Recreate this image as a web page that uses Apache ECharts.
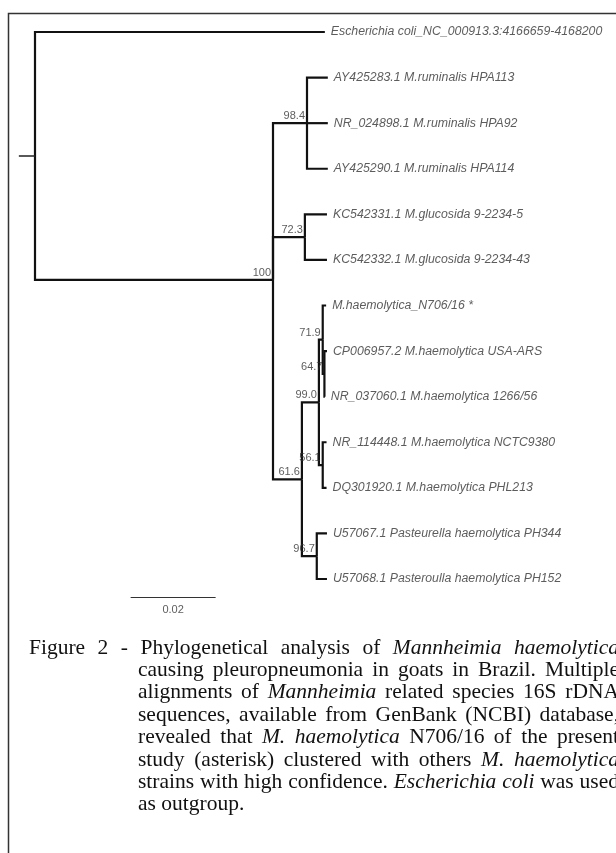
<!DOCTYPE html>
<html>
<head>
<meta charset="utf-8">
<script src="https://cdn.jsdelivr.net/npm/echarts@6/dist/echarts.min.js"></script>
<style>
  html, body { margin: 0; padding: 0; background: #fff; }
  #tree { width: 616px; height: 853px; }
</style>
</head>
<body>
<div id="tree"></div>
<script>
// leaves, top to bottom
const leafNames = [
  'Escherichia coli_NC_000913.3:4166659-4168200',
  'AY425283.1 M.ruminalis HPA113',
  'NR_024898.1 M.ruminalis HPA92',
  'AY425290.1 M.ruminalis HPA114',
  'KC542331.1 M.glucosida 9-2234-5',
  'KC542332.1 M.glucosida 9-2234-43',
  'M.haemolytica_N706/16 *',
  'CP006957.2 M.haemolytica USA-ARS',
  'NR_037060.1 M.haemolytica 1266/56',
  'NR_114448.1 M.haemolytica NCTC9380',
  'DQ301920.1 M.haemolytica PHL213',
  'U57067.1 Pasteurella haemolytica PH344',
  'U57068.1 Pasteroulla haemolytica PH152'
]
const leafParent = [0, 2, 2, 2, 3, 3, 6, 7, 7, 8, 8, 9, 9]
const leafBranch = [0.0682, 0.0049, 0.0049, 0.0049, 0.0052, 0.0052, 0.0008, 0.0006, 0.0001, 0.0009, 0.0009, 0.0024, 0.0024]

// internal nodes (0 = root)
const nodeSupport = ['', '100', '98.4', '72.3', '61.6', '99.0', '71.9', '64.7', '56.1', '96.7']
const nodeParent = [-1, 0, 1, 1, 1, 4, 5, 6, 5, 4]
const nodeBranch = [0, 0.0560, 0.0080, 0.0075, 0.0068, 0.0040, 0.0009, 0.0004, 0.0009, 0.0035]

const scaleBarLength = 0.02
const scaleBarLabel = '0.02'

const captionLines = [
  'Figure 2 - Phylogenetical analysis of *Mannheimia* *haemolytica*',
  'causing pleuropneumonia in goats in Brazil. Multiple',
  'alignments of *Mannheimia* related species 16S rDNA',
  'sequences, available from GenBank (NCBI) database,',
  'revealed that *M.* *haemolytica* N706/16 of the present',
  'study (asterisk) clustered with others *M.* *haemolytica*',
  'strains with high confidence. *Escherichia* *coli* was used',
  'as outgroup.'
]

// node positions
const nodeX = []
nodeParent.forEach((p, i) => {
  nodeX[i] = p < 0 ? 0 : nodeX[p] + nodeBranch[i]
})
const leafX = leafParent.map((p, j) => nodeX[p] + leafBranch[j])
const leafY = leafNames.map((n, j) => j)
const nodeY = []
for (let i = nodeParent.length - 1; i >= 0; i--) {
  const ys = []
  leafParent.forEach((p, j) => { if (p === i) ys.push(leafY[j]) })
  nodeParent.forEach((p, k) => { if (p === i) ys.push(nodeY[k]) })
  nodeY[i] = ys.reduce((a, b) => a + b, 0) / ys.length
}

const branches = []
leafParent.forEach((p, j) => {
  branches.push({coords: [[nodeX[p], nodeY[p]], [nodeX[p], leafY[j]], [leafX[j], leafY[j]]]})
})
nodeParent.forEach((p, i) => {
  if (p < 0) return
  branches.push({coords: [[nodeX[p], nodeY[p]], [nodeX[p], nodeY[i]], [nodeX[i], nodeY[i]]]})
})

const barStart = 0.0225
const barY = 12.4

// caption, justified word by word
const ctx = document.createElement('canvas').getContext('2d')
const capSize = 21.5
const capFont = (it) => (it ? 'italic ' : '') + capSize + 'px "Liberation Serif"'
const captionTexts = []
captionLines.forEach((line, li) => {
  const x0 = li === 0 ? 29 : 138
  const right = 619
  const words = line.split(' ').map(w => {
    const it = w.startsWith('*')
    const t = it ? w.slice(1, -1) : w
    ctx.font = capFont(it)
    return {t, it, w: ctx.measureText(t).width}
  })
  const total = words.reduce((a, w) => a + w.w, 0)
  const last = li === captionLines.length - 1
  ctx.font = capFont(false)
  const gap = last ? ctx.measureText(' ').width : (right - x0 - total) / (words.length - 1)
  let x = x0
  words.forEach(w => {
    captionTexts.push({
      type: 'text',
      x: x,
      y: 648 + li * 22.4,
      style: {
        text: w.t,
        font: capFont(w.it),
        fill: '#111',
        verticalAlign: 'middle'
      }
    })
    x += w.w + gap
  })
})

const chart = echarts.init(document.getElementById('tree'))
chart.setOption({
  animation: false,
  grid: {left: 35, right: 0, top: 32, bottom: 274},
  xAxis: {type: 'value', min: 0, max: 581 / 4250, show: false},
  yAxis: {type: 'value', min: 0, max: 12, inverse: true, show: false},
  graphic: [
    {
      type: 'polyline',
      shape: {points: [[8.5, 853], [8.5, 13.5], [616, 13.5]]},
      style: {stroke: '#333', lineWidth: 1.5, fill: null}
    },
    ...captionTexts
  ],
  series: [
    {
      type: 'lines',
      coordinateSystem: 'cartesian2d',
      polyline: true,
      clip: false,
      silent: true,
      lineStyle: {color: '#111', width: 2.2, opacity: 1, join: 'miter'},
      data: branches
    },
    {
      type: 'lines',
      coordinateSystem: 'cartesian2d',
      clip: false,
      silent: true,
      lineStyle: {color: '#222', width: 1.5, opacity: 1},
      data: [{coords: [[-0.0038, nodeY[0]], [0, nodeY[0]]]}]
    },
    {
      type: 'lines',
      coordinateSystem: 'cartesian2d',
      clip: false,
      silent: true,
      lineStyle: {color: '#333', width: 1, opacity: 1},
      data: [{coords: [[barStart, barY], [barStart + scaleBarLength, barY]]}]
    },
    {
      type: 'scatter',
      clip: false,
      silent: true,
      symbolSize: 0,
      itemStyle: {color: 'transparent'},
      label: {
        show: true,
        position: 'right',
        distance: 6,
        fontFamily: 'Liberation Sans',
        fontStyle: 'italic',
        fontSize: 12.3,
        color: '#333',
        formatter: (p) => leafNames[p.dataIndex]
      },
      data: leafX.map((x, j) => [x, leafY[j]])
    },
    {
      type: 'scatter',
      clip: false,
      silent: true,
      symbolSize: 0,
      itemStyle: {color: 'transparent'},
      label: {
        show: true,
        position: 'left',
        distance: 2,
        offset: [0, -7],
        fontFamily: 'Liberation Sans',
        fontSize: 11,
        color: '#333',
        formatter: (p) => nodeSupport[p.dataIndex + 1]
      },
      data: nodeX.slice(1).map((x, i) => [x, nodeY[i + 1]])
    },
    {
      type: 'scatter',
      clip: false,
      silent: true,
      symbolSize: 0,
      itemStyle: {color: 'transparent'},
      label: {
        show: true,
        position: 'bottom',
        distance: 7,
        fontFamily: 'Liberation Sans',
        fontSize: 11,
        color: '#333',
        formatter: scaleBarLabel
      },
      data: [[barStart + scaleBarLength / 2, barY]]
    }
  ]
})
</script>
</body>
</html>
